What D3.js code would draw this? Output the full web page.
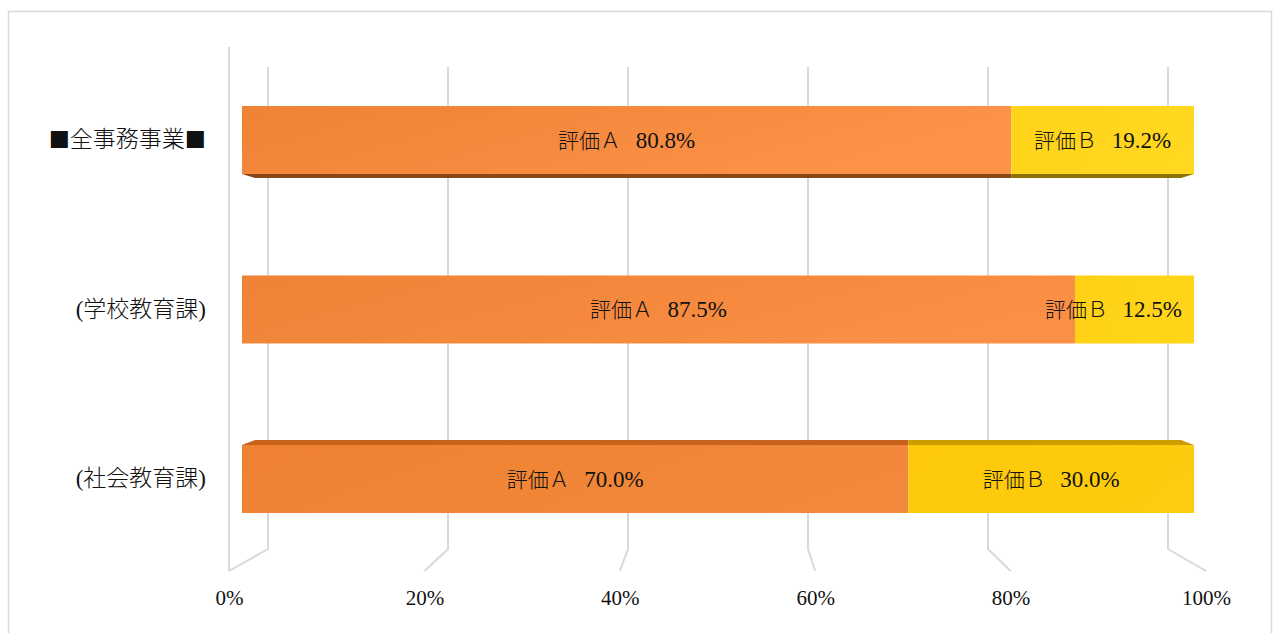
<!DOCTYPE html>
<html><head><meta charset="utf-8">
<script src="https://cdn.jsdelivr.net/npm/d3@7"></script>
<style>
body{margin:0;background:#fff;}
svg{display:block;}
text{font-family:"Liberation Serif","Noto Sans CJK JP",serif;fill:#111;}
</style></head>
<body><svg id="c" width="1274" height="633"></svg>
<script>
const categories = ["■全事務事業■", "(学校教育課)", "(社会教育課)"];
const seriesNames = ["評価Ａ", "評価Ｂ"];
const valuesA = [80.8, 87.5, 70.0];
const valuesB = [19.2, 12.5, 30.0];
const tickValues = [0, 20, 40, 60, 80, 100];

const svg = d3.select("#c");
// chart border
svg.append("rect").attr("x",8.5).attr("y",11.5).attr("width",1263).attr("height",640)
  .attr("fill","none").attr("stroke","#d9d9d9").attr("stroke-width",1.5);

// perspective scales
const xFront = d3.scaleLinear().domain([0,100]).range([229,1206]);
const xBack  = d3.scaleLinear().domain([0,100]).range([268,1168]);
const xBar   = d3.scaleLinear().domain([0,100]).range([242,1194]);
const xBarIn = d3.scaleLinear().domain([0,100]).range([255,1181]);
const y = d3.scalePoint().domain(categories).range([140,479]);
const barH = 68;
const backTop = 67, backBottom = 549, frontBottom = 571;

// gridlines (back wall + floor)
const grid = svg.append("g").attr("fill","none").attr("stroke","#d9d9d9").attr("stroke-width",2);
grid.selectAll("path").data(tickValues).join("path")
  .attr("d", d => `M${xBack(d)},${backTop}L${xBack(d)},${backBottom}L${xFront(d)},${frontBottom}`);
// left side wall edge
grid.append("path").attr("d", `M${xFront(0)},47L${xFront(0)},${frontBottom}`);

// gradients
const defs = svg.append("defs");
function grad(id, c0, c1){
  const g = defs.append("linearGradient").attr("id",id).attr("x1","0").attr("x2","1").attr("y1","0").attr("y2","0.3");
  g.append("stop").attr("offset","0").attr("stop-color",c0);
  g.append("stop").attr("offset","1").attr("stop-color",c1);
}
grad("gA0","#EE8334","#FD9249");
grad("gA1","#EE8336","#FA8F45");
grad("gA2","#EE8232","#F2883A");
grad("gB0","#FFD31A","#FFD81F");
grad("gB1","#FFD116","#FFD51A");
grad("gB2","#FDC90A","#FDCC0E");

const rows = categories.map((c,i)=>({cat:c, i, segs:[
  {name:seriesNames[0], v:valuesA[i], x0:0, x1:valuesA[i], s:0},
  {name:seriesNames[1], v:valuesB[i], x0:valuesA[i], x1:valuesA[i]+valuesB[i], s:1}
]}));

const bars = svg.append("g");
rows.forEach(r => {
  const yc = y(r.cat), yt = yc - barH/2, yb = yc + barH/2;
  r.segs.forEach(s => {
    if (r.i === 0) { // bottom face visible
      bars.append("path")
        .attr("d", `M${xBar(s.x0)},${yb}L${s.x0===0?xBarIn(s.x0):xBar(s.x0)},${yb+4}L${s.x1>=100?xBarIn(s.x1):xBar(s.x1)},${yb+4}L${xBar(s.x1)},${yb}Z`)
        .attr("fill", s.s===0 ? "#8A4614" : "#8C7200");
    }
    if (r.i === 2) { // top face visible
      bars.append("path")
        .attr("d", `M${xBar(s.x0)},${yt}L${s.x0===0?xBarIn(s.x0):xBar(s.x0)},${yt-5}L${s.x1>=100?xBarIn(s.x1):xBar(s.x1)},${yt-5}L${xBar(s.x1)},${yt}Z`)
        .attr("fill", s.s===0 ? "#C8611C" : "#CC9C00");
    }
    bars.append("rect")
      .attr("x", xBar(s.x0)).attr("y", yt)
      .attr("width", xBar(s.x1)-xBar(s.x0)).attr("height", barH)
      .attr("fill", `url(#g${s.s===0?"A":"B"}${r.i})`);
  });
  r.segs.forEach(s => {
    const t = bars.append("text")
      .attr("y", yc).attr("dy","0.36em")
      .attr("font-size", 21).style("word-spacing","10px")
      .attr("text-anchor","middle");
    t.append("tspan").attr("font-family","Noto Sans CJK JP").attr("font-weight",300).text(s.name + " ");
    t.append("tspan").attr("font-size",23).text(s.v.toFixed(1) + "%");
    const w = t.node().getComputedTextLength();
    let cx = (xBar(s.x0)+xBar(s.x1))/2;
    const maxR = xBar(100) - 12;
    if (cx + w/2 > maxR) cx = maxR - w/2;
    t.attr("x", cx);
  });
});

// category labels (■ drawn larger, as in the original Mincho font)
svg.append("g").selectAll("text").data(categories).join("text")
  .attr("x", 206).attr("y", d => y(d) + 7)
  .attr("text-anchor","end").attr("font-size",23)
  .attr("font-family","Noto Sans CJK JP").attr("font-weight",300)
  .each(function(d){
    const t = d3.select(this);
    const parts = d.split(/(■)/).filter(p => p.length);
    let shifted = false;
    parts.forEach(p => {
      if (p === "■") {
        t.append("tspan").attr("font-size",35).attr("dy", shifted ? 0 : 3).text(p);
        shifted = true;
      } else {
        t.append("tspan").attr("dy", shifted ? -3 : 0).text(p);
        shifted = false;
      }
    });
  });

// x axis labels
const ax = svg.append("g").attr("transform","translate(0,590)")
  .call(d3.axisBottom(xFront).tickValues(tickValues).tickFormat(d => d + "%").tickSize(0).tickPadding(0));
ax.select(".domain").remove();
ax.selectAll("text").attr("font-family",null).attr("font-size",21).attr("fill","#111").attr("dy","0.71em");
</script></body></html>
